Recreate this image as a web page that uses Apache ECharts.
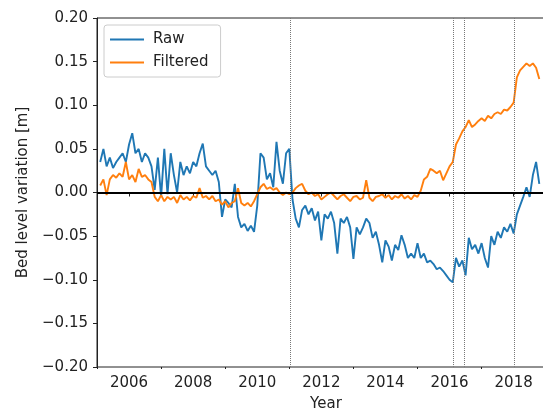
<!DOCTYPE html>
<html><head><meta charset="utf-8">
<script src="https://cdn.jsdelivr.net/npm/echarts@6/dist/echarts.min.js"></script>
<style>html,body{margin:0;padding:0;background:#fff;overflow:hidden}#c{width:543px;height:414px}</style>
</head><body><div id="c"></div>
<script>
const years = [
 2005.1,2005.2,2005.3,2005.4,2005.5,2005.6,2005.7,2005.8,2005.9,
 2006.0,2006.1,2006.2,2006.3,2006.4,2006.5,2006.6,2006.7,2006.8,2006.9,
 2007.0,2007.1,2007.2,2007.3,2007.4,2007.5,2007.6,2007.7,2007.8,2007.9,
 2008.0,2008.1,2008.2,2008.3,2008.4,2008.5,2008.6,2008.7,2008.8,2008.9,
 2009.0,2009.1,2009.2,2009.3,2009.4,2009.5,2009.6,2009.7,2009.8,2009.9,
 2010.0,2010.1,2010.2,2010.3,2010.4,2010.5,2010.6,2010.7,2010.8,2010.9,
 2011.0,2011.1,2011.2,2011.3,2011.4,2011.5,2011.6,2011.7,2011.8,2011.9,
 2012.0,2012.1,2012.2,2012.3,2012.4,2012.5,2012.6,2012.7,2012.8,2012.9,
 2013.0,2013.1,2013.2,2013.3,2013.4,2013.5,2013.6,2013.7,2013.8,2013.9,
 2014.0,2014.1,2014.2,2014.3,2014.4,2014.5,2014.6,2014.7,2014.8,2014.9,
 2015.0,2015.1,2015.2,2015.3,2015.4,2015.5,2015.6,2015.7,2015.8,2015.9,
 2016.0,2016.1,2016.2,2016.3,2016.4,2016.5,2016.6,2016.7,2016.8,2016.9,
 2017.0,2017.1,2017.2,2017.3,2017.4,2017.5,2017.6,2017.7,2017.8,2017.9,
 2018.0,2018.1,2018.2,2018.3,2018.4,2018.5,2018.6,2018.7,2018.8
];
const raw = [
 0.035,0.05,0.03,0.04,0.028,0.035,0.04,0.045,0.035,
 0.055,0.068,0.045,0.05,0.035,0.045,0.04,0.03,0.003,0.04,
 -0.005,0.05,-0.002,0.045,0.02,0.0,0.035,0.02,0.03,0.022,
 0.035,0.03,0.045,0.056,0.03,0.025,0.02,0.025,0.012,-0.028,
 -0.008,-0.012,-0.017,0.01,-0.028,-0.04,-0.036,-0.044,-0.038,-0.045,
 -0.015,0.045,0.04,0.015,0.022,0.006,0.058,0.025,0.01,0.045,
 0.05,-0.008,-0.03,-0.04,-0.02,-0.015,-0.025,-0.018,-0.032,-0.022,
 -0.055,-0.025,-0.03,-0.022,-0.035,-0.07,-0.03,-0.035,-0.028,-0.04,
 -0.076,-0.04,-0.048,-0.04,-0.03,-0.035,-0.052,-0.045,-0.06,-0.08,
 -0.055,-0.062,-0.078,-0.06,-0.066,-0.049,-0.06,-0.075,-0.07,-0.075,
 -0.058,-0.075,-0.07,-0.08,-0.078,-0.082,-0.088,-0.086,-0.09,-0.095,
 -0.1,-0.103,-0.075,-0.085,-0.078,-0.095,-0.052,-0.065,-0.06,-0.07,
 -0.058,-0.075,-0.086,-0.05,-0.06,-0.045,-0.052,-0.04,-0.045,-0.036,
 -0.047,-0.025,-0.015,-0.005,0.006,-0.005,0.02,0.035,0.01
];
const filtered = [
 0.008,0.015,-0.003,0.015,0.02,0.017,0.022,0.018,0.035,
 0.015,0.02,0.012,0.027,0.018,0.02,0.015,0.012,-0.005,-0.01,
 -0.003,-0.01,-0.005,-0.008,-0.005,-0.012,-0.003,-0.008,-0.005,-0.009,
 -0.004,-0.006,0.005,-0.006,-0.004,-0.008,-0.004,-0.01,-0.008,-0.014,
 -0.01,-0.017,-0.012,-0.01,0.005,-0.012,-0.015,-0.012,-0.016,-0.01,
 -0.002,0.006,0.01,0.004,0.006,0.003,0.005,0.0,-0.003,0.0,
 -0.002,0.0,0.005,0.008,0.01,0.002,-0.002,0.0,-0.004,-0.002,
 -0.008,-0.005,-0.002,0.0,-0.004,-0.008,-0.004,-0.002,-0.006,-0.01,
 -0.005,-0.004,-0.008,-0.006,0.014,-0.006,-0.01,-0.005,-0.004,-0.002,
 -0.006,-0.003,-0.008,-0.004,-0.006,-0.002,-0.007,-0.004,-0.008,-0.003,
 -0.005,0.002,0.015,0.018,0.027,0.025,0.022,0.025,0.014,0.022,
 0.03,0.035,0.055,0.062,0.07,0.075,0.083,0.075,0.078,0.082,
 0.085,0.082,0.088,0.085,0.09,0.092,0.09,0.095,0.094,0.098,
 0.103,0.132,0.14,0.144,0.148,0.145,0.148,0.143,0.13
];
const eventYears = [2011.02, 2016.11, 2016.47, 2018.02];
const xTickLabels = [2006, 2008, 2010, 2012, 2014, 2016, 2018];
const xMinorTicks = [2005, 2007, 2009, 2011, 2013, 2015, 2017, 2019];
const seriesNames = ['Raw', 'Filtered'];

const FONT = 'DejaVu Sans';
const axisColor = '#222';
const xMin = 2005, xMax = 2019.29;

const chart = echarts.init(document.getElementById('c'), null, {renderer: 'canvas'});
const fmtY = v => Math.abs(v) < 1e-9 ? '0.00' : v.toFixed(2).replace('-', '\u2212');

const markData = eventYears.map(y => ({xAxis: y, lineStyle: {type: 'dotted', color: '#777', width: 1}}));
markData.push({yAxis: 0, lineStyle: {type: 'solid', color: '#000', width: 2}});

chart.setOption({
  animation: false,
  backgroundColor: '#fff',
  grid: {left: 97, top: 18, width: 458, bottom: 47, outerBoundsMode: 'none', containLabel: false,
         show: true, borderColor: axisColor, borderWidth: 1, backgroundColor: 'transparent'},
  legend: {
    data: seriesNames, orient: 'vertical', left: 104, top: 25,
    icon: 'rect', itemWidth: 34, itemHeight: 2, itemGap: 8,
    padding: [7, 12, 7, 6], borderColor: '#ccc', borderWidth: 1, borderRadius: 3,
    backgroundColor: 'rgba(255,255,255,0.85)',
    textStyle: {fontFamily: FONT, fontSize: 15, color: '#222', padding: [0, 0, 0, 4]}
  },
  xAxis: [{
    type: 'value', min: xMin, max: xMax,
    name: 'Year', nameLocation: 'middle', nameGap: 30,
    nameTextStyle: {fontFamily: FONT, fontSize: 15, color: '#222'},
    axisLine: {lineStyle: {color: axisColor, width: 1}},
    axisTick: {show: true, length: 4, customValues: xTickLabels, lineStyle: {color: axisColor}},
    axisLabel: {customValues: xTickLabels, fontFamily: FONT, fontSize: 15, color: '#222', margin: 9, formatter: v => String(Math.round(v))},
    splitLine: {show: false}
  }, {
    type: 'value', min: xMin, max: xMax, position: 'bottom',
    axisLine: {show: false},
    axisTick: {show: true, length: 2, customValues: xMinorTicks, lineStyle: {color: axisColor}},
    axisLabel: {show: false}, splitLine: {show: false}
  }],
  yAxis: {
    type: 'value', min: -0.2, max: 0.2, interval: 0.05,
    name: 'Bed level variation [m]', nameLocation: 'middle', nameGap: 66,
    nameTextStyle: {fontFamily: FONT, fontSize: 15, color: '#222'},
    axisLine: {show: true, lineStyle: {color: axisColor, width: 1}},
    axisTick: {show: true, length: 4, lineStyle: {color: axisColor}},
    axisLabel: {fontFamily: FONT, fontSize: 15, color: '#222', margin: 9, formatter: fmtY},
    splitLine: {show: false}
  },
  series: [{
    name: seriesNames[0], type: 'line', showSymbol: false, symbol: 'none',
    data: years.map((y, i) => [y, raw[i]]),
    lineStyle: {color: '#1f77b4', width: 1.9}, itemStyle: {color: '#1f77b4'}
  }, {
    name: seriesNames[1], type: 'line', showSymbol: false, symbol: 'none',
    data: years.map((y, i) => [y, filtered[i]]),
    lineStyle: {color: '#ff7f0e', width: 1.9}, itemStyle: {color: '#ff7f0e'},
    markLine: {silent: true, symbol: ['none', 'none'], label: {show: false}, animation: false, data: markData}
  }]
});
</script>
</body></html>
